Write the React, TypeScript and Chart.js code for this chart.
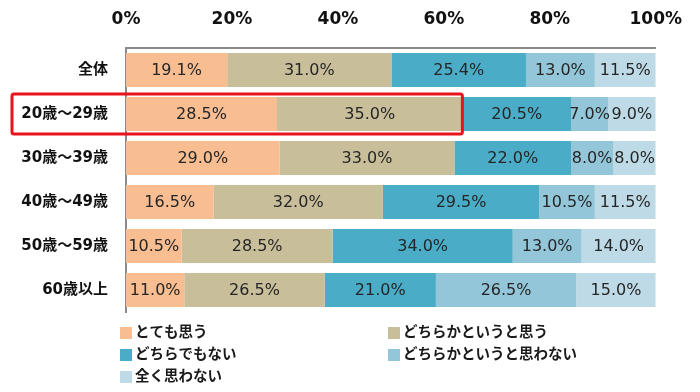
import React, { useEffect, useRef } from "react";
import { Chart, registerables } from "chart.js";

Chart.register(...registerables);

const categories = ["全体", "20歳～29歳", "30歳～39歳", "40歳～49歳", "50歳～59歳", "60歳以上"];
const seriesNames = ["とても思う", "どちらかというと思う", "どちらでもない", "どちらかというと思わない", "全く思わない"];
const seriesColors = ["#F8BD90", "#C8BE9A", "#4AACC6", "#93C6D8", "#BEDAE7"];
const veryMuch = [19.1, 28.5, 29.0, 16.5, 10.5, 11.0];
const somewhat = [31.0, 35.0, 33.0, 32.0, 28.5, 26.5];
const neutral = [25.4, 20.5, 22.0, 29.5, 34.0, 21.0];
const somewhatNot = [13.0, 7.0, 8.0, 10.5, 13.0, 26.5];
const notAtAll = [11.5, 9.0, 8.0, 11.5, 14.0, 15.0];
const xTicks = [0, 20, 40, 60, 80, 100];
const highlightIndex = 1;

const FONT = '"DejaVu Sans", "Noto Sans CJK JP", sans-serif';

export default function App() {
  const ref = useRef<HTMLCanvasElement | null>(null);

  useEffect(() => {
    document.body.style.margin = "0";
    const canvas = ref.current;
    if (!canvas) return;
    const series = [veryMuch, somewhat, neutral, somewhatNot, notAtAll];

    const labelPlugin = {
      id: "segLabels",
      afterDatasetsDraw(chart: any) {
        const ctx = chart.ctx;
        ctx.save();
        ctx.font = `16px ${FONT}`;
        ctx.fillStyle = "#262626";
        ctx.textAlign = "center";
        ctx.textBaseline = "middle";
        chart.data.datasets.forEach((ds: any, di: number) => {
          const meta = chart.getDatasetMeta(di);
          meta.data.forEach((bar: any, i: number) => {
            const v = ds.data[i];
            const cx = (bar.x + bar.base) / 2;
            ctx.fillText(v.toFixed(1) + "%", cx, bar.y + 1);
          });
        });
        // highlight box
        const xs = chart.scales.x;
        const ys = chart.scales.y;
        const endVal = veryMuch[highlightIndex] + somewhat[highlightIndex];
        const yc = ys.getPixelForValue(highlightIndex);
        const x1 = 12;
        const x2 = xs.getPixelForValue(endVal);
        ctx.strokeStyle = "#E8131B";
        ctx.lineWidth = 3;
        ctx.beginPath();
        ctx.roundRect(x1, yc - 20, x2 - x1, 40, 2);
        ctx.stroke();
        ctx.restore();
      },
    };

    const legendPlugin = {
      id: "gridLegend",
      afterDraw(chart: any) {
        const ctx = chart.ctx;
        ctx.save();
        ctx.font = `bold 14.5px ${FONT}`;
        ctx.textBaseline = "middle";
        ctx.textAlign = "left";
        const colX = [120, 388];
        const rowY = [333, 355, 377];
        chart.data.datasets.forEach((ds: any, i: number) => {
          const x = colX[i % 2];
          const y = rowY[Math.floor(i / 2)];
          ctx.fillStyle = ds.backgroundColor;
          ctx.fillRect(x, y - 6, 12, 12);
          ctx.fillStyle = "#1a1a1a";
          ctx.fillText(ds.label, x + 15, y);
        });
        ctx.restore();
      },
    };

    const chart = new Chart(canvas, {
      type: "bar",
      data: {
        labels: categories,
        datasets: series.map((d, i) => ({
          label: seriesNames[i],
          data: d,
          backgroundColor: seriesColors[i],
          borderWidth: 0,
          categoryPercentage: 1,
          barPercentage: 0.77,
        })),
      },
      options: {
        indexAxis: "y",
        animation: false,
        responsive: false,
        layout: { padding: { left: 0, right: 40, top: 0, bottom: 80 } },
        plugins: { legend: { display: false }, tooltip: { enabled: false } },
        scales: {
          x: {
            position: "top",
            stacked: true,
            min: 0,
            max: 100,
            afterBuildTicks(scale: any) {
              scale.ticks = xTicks.map((v) => ({ value: v }));
            },
            afterFit(scale: any) {
              scale.height = 48;
            },
            grid: { display: false, drawTicks: false },
            border: { display: true, color: "#8A8A8A", width: 2 },
            ticks: {
              padding: 18,
              color: "#111",
              font: { family: FONT, size: 17, weight: "bold" },
              callback: (v: any) => v + "%",
              maxRotation: 0,
            },
          },
          y: {
            stacked: true,
            afterFit(scale: any) {
              scale.width = 126;
            },
            grid: { display: false, drawTicks: false },
            border: { display: true, color: "#8A8A8A", width: 2 },
            ticks: {
              padding: 18,
              color: "#111",
              font: { family: FONT, size: 15, weight: "bold" },
            },
          },
        },
      },
      plugins: [labelPlugin, legendPlugin],
    });
    return () => chart.destroy();
  }, []);

  return (
    <div style={{ width: 700, height: 392, background: "#fff" }}>
      <canvas ref={ref} width={700} height={392} style={{ display: "block", width: 700, height: 392 }} />
    </div>
  );
}
